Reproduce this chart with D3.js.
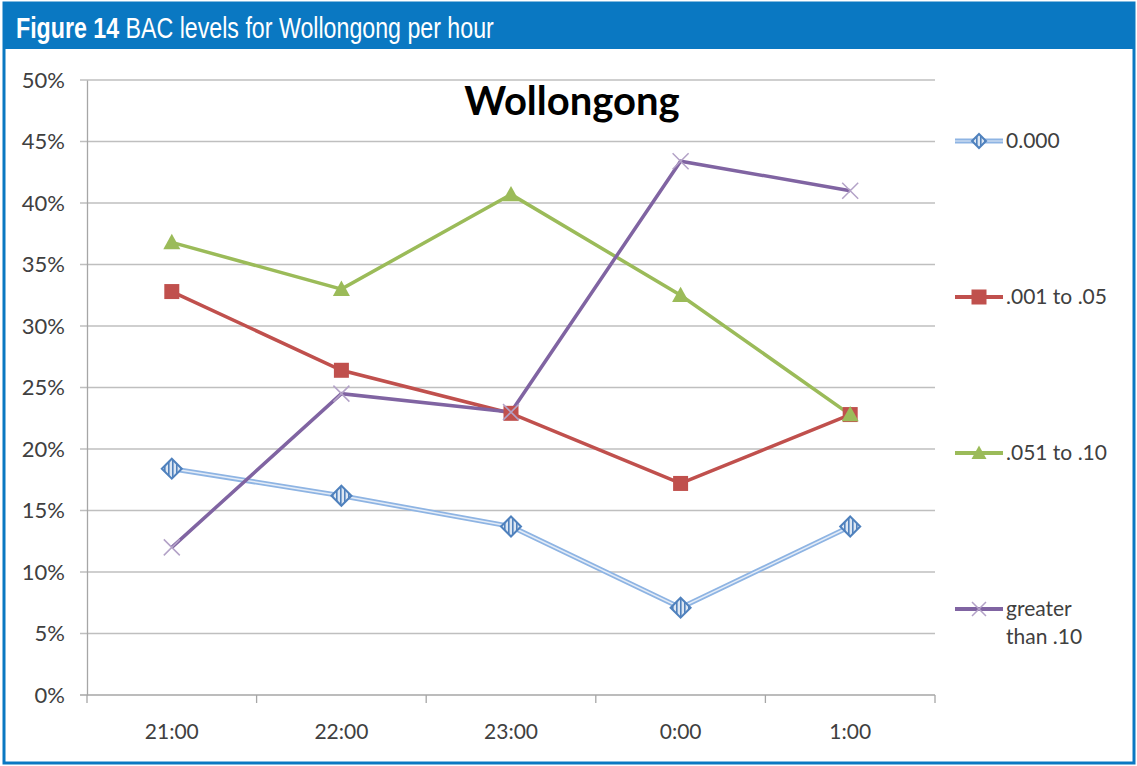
<!DOCTYPE html>
<html>
<head>
<meta charset="utf-8">
<script src="https://cdn.jsdelivr.net/npm/d3@7"></script>
<style>
  body { margin: 0; background: #fff; }
  svg { display: block; }
</style>
</head>
<body>
<div id="chart"></div>
<script>
// Data
const hours = ["21:00", "22:00", "23:00", "0:00", "1:00"];
const seriesNames = ["0.000", ".001 to .05", ".051 to .10", "greater than .10"];
const bac000 = [0.184, 0.162, 0.137, 0.071, 0.137];
const bac001 = [0.328, 0.264, 0.229, 0.172, 0.228];
const bac051 = [0.368, 0.330, 0.407, 0.325, 0.228];
const bac10 = [0.120, 0.245, 0.230, 0.434, 0.410];
const yTicks = [0, 0.05, 0.10, 0.15, 0.20, 0.25, 0.30, 0.35, 0.40, 0.45, 0.50];

const width = 1137, height = 766;
const blue = "#0a78c2";

const svg = d3.select("#chart").append("svg")
  .attr("width", width)
  .attr("height", height);

// outer frame and header
svg.append("rect")
  .attr("x", 4).attr("y", 3)
  .attr("width", width - 7).attr("height", height - 6)
  .attr("fill", "#fff").attr("stroke", blue).attr("stroke-width", 3);
svg.append("rect")
  .attr("x", 3).attr("y", 2)
  .attr("width", width - 5).attr("height", 47)
  .attr("fill", blue);

// condensed header, squeezed horizontally
const head = svg.append("text")
  .attr("transform", "translate(16,38) scale(0.8,1)")
  .attr("fill", "#fff")
  .style("font-family", "'Liberation Sans', Arial, sans-serif")
  .style("font-size", "29px");
head.append("tspan").attr("font-weight", "bold").text("Figure 14 ");
head.append("tspan").text("BAC levels for Wollongong per hour");

// scales
const x = d3.scaleBand().domain(hours).range([87, 935]);
const y = d3.scaleLinear().domain([0, 0.5]).range([695, 80]);

const font = "Lato, 'Open Sans', sans-serif";
const grey = "#bfbfbf";

// gridlines
svg.append("g")
  .selectAll("line")
  .data(yTicks)
  .join("line")
  .attr("x1", 80).attr("x2", 935)
  .attr("y1", d => y(d)).attr("y2", d => y(d))
  .attr("stroke", d => d === 0 ? "#a6a6a6" : grey)
  .attr("stroke-width", 1.3);

// y axis
const yAxis = svg.append("g")
  .attr("transform", "translate(87,0)")
  .call(d3.axisLeft(y).tickValues(yTicks).tickFormat(d3.format(".0%")).tickSize(0).tickPadding(22));
yAxis.select(".domain").attr("stroke", "#a6a6a6").attr("stroke-width", 1.3);
yAxis.selectAll("text")
  .style("font-family", font).style("font-size", "22px").attr("fill", "#404040");

// x axis
const xAxis = svg.append("g")
  .attr("transform", "translate(0,695)")
  .call(d3.axisBottom(x).tickSize(0).tickPadding(29));
xAxis.select(".domain").remove();
xAxis.selectAll("text")
  .style("font-family", font).style("font-size", "21px").attr("fill", "#404040");

// category edge ticks
const edges = hours.map(h => x(h)).concat([x.range()[1]]);
svg.append("g")
  .selectAll("line")
  .data(edges)
  .join("line")
  .attr("x1", d => d).attr("x2", d => d)
  .attr("y1", 695).attr("y2", 703)
  .attr("stroke", "#a6a6a6").attr("stroke-width", 1.3);

// chart title
svg.append("text")
  .attr("x", 572).attr("y", 115)
  .attr("text-anchor", "middle")
  .style("font-family", font).style("font-weight", "bold").style("font-size", "40px")
  .attr("fill", "#000")
  .text("Wollongong");

// stripe pattern for diamonds
const defs = svg.append("defs");
const pat = defs.append("pattern")
  .attr("id", "stripes")
  .attr("patternUnits", "userSpaceOnUse")
  .attr("width", 4).attr("height", 4);
pat.append("rect").attr("width", 4).attr("height", 4).attr("fill", "#dce6f2");
pat.append("rect").attr("width", 1.6).attr("height", 4).attr("fill", "#4f81bd");

const cx = (d, i) => x(hours[i]) + x.bandwidth() / 2;
const line = d3.line().x((d, i) => cx(d, i)).y(d => y(d));

// series 1: 0.000 (double line, striped diamonds)
svg.append("path").datum(bac000)
  .attr("d", line).attr("fill", "none")
  .attr("stroke", "#8eb4e3").attr("stroke-width", 5);
svg.append("path").datum(bac000)
  .attr("d", line).attr("fill", "none")
  .attr("stroke", "#e4ecf7").attr("stroke-width", 1.5);

// series 2: .001 to .05
svg.append("path").datum(bac001)
  .attr("d", line).attr("fill", "none")
  .attr("stroke", "#c0504d").attr("stroke-width", 3.5);

// series 3: .051 to .10
svg.append("path").datum(bac051)
  .attr("d", line).attr("fill", "none")
  .attr("stroke", "#9bbb59").attr("stroke-width", 3.5);

// series 4: greater than .10
svg.append("path").datum(bac10)
  .attr("d", line).attr("fill", "none")
  .attr("stroke", "#8064a2").attr("stroke-width", 3.5);

// markers
function diamond(g, px, py, r) {
  g.append("path")
    .attr("d", `M${px},${py - r}L${px + r},${py}L${px},${py + r}L${px - r},${py}Z`)
    .attr("fill", "url(#stripes)").attr("stroke", "#4f81bd").attr("stroke-width", 2);
}
function square(g, px, py, r) {
  g.append("rect")
    .attr("x", px - r).attr("y", py - r).attr("width", 2 * r).attr("height", 2 * r)
    .attr("fill", "#c0504d");
}
function triangle(g, px, py, r) {
  g.append("path")
    .attr("d", `M${px},${py - r}L${px + r},${py + r * 0.8}L${px - r},${py + r * 0.8}Z`)
    .attr("fill", "#9bbb59");
}
function cross(g, px, py, r) {
  g.append("path")
    .attr("d", `M${px - r},${py - r}L${px + r},${py + r}M${px - r},${py + r}L${px + r},${py - r}`)
    .attr("stroke", "#b3a2c7").attr("stroke-width", 1.5);
}

const marks = svg.append("g");
bac000.forEach((d, i) => diamond(marks, cx(d, i), y(d), 10));
bac001.forEach((d, i) => square(marks, cx(d, i), y(d), 7.5));
bac051.forEach((d, i) => triangle(marks, cx(d, i), y(d), 8.5));
bac10.forEach((d, i) => cross(marks, cx(d, i), y(d), 8));

// legend
const legendY = [141, 297, 453, 609];
const drawers = [diamond, square, triangle, cross];
const legendStroke = ["#8eb4e3", "#c0504d", "#9bbb59", "#8064a2"];
const leg = svg.append("g");
seriesNames.forEach((name, i) => {
  const ly = legendY[i];
  leg.append("line")
    .attr("x1", 955).attr("x2", 1003)
    .attr("y1", ly).attr("y2", ly)
    .attr("stroke", legendStroke[i]).attr("stroke-width", i === 0 ? 5 : 4);
  if (i === 0) {
    leg.append("line").attr("x1", 955).attr("x2", 1003).attr("y1", ly).attr("y2", ly)
      .attr("stroke", "#e4ecf7").attr("stroke-width", 1.2);
    drawers[i](leg, 979, ly, 7);
  } else if (i === 3) {
    drawers[i](leg, 979, ly, 7);
  } else {
    drawers[i](leg, 979, ly, 7.5);
  }
  const t = leg.append("text")
    .attr("x", 1006).attr("y", ly + 7)
    .style("font-family", font).style("font-size", "21px")
    .attr("fill", "#404040");
  if (name === "greater than .10") {
    t.append("tspan").attr("x", 1006).text("greater");
    t.append("tspan").attr("x", 1006).attr("dy", 28).text("than .10");
  } else {
    t.text(name);
  }
});
</script>
</body>
</html>
